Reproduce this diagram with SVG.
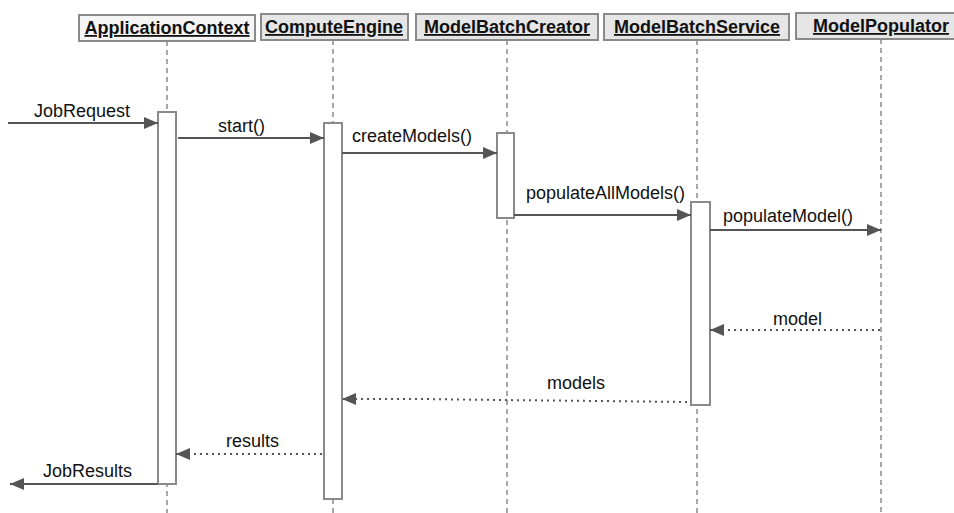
<svg xmlns="http://www.w3.org/2000/svg" width="954" height="513" viewBox="0 0 954 513">
  <defs>
    <marker id="head" viewBox="0 0 14 12" refX="14" refY="6" markerWidth="14" markerHeight="12" markerUnits="userSpaceOnUse" orient="auto">
      <path d="M0,0 L14,6 L0,12 Z" fill="#555"/>
    </marker>
    <style>
      .box { stroke: #8a8a8a; stroke-width: 2; fill: #e6e6e6; }
      .name { font-family: "Liberation Sans", Arial, sans-serif; font-size: 18px; font-weight: bold; fill: #111; text-anchor: middle; text-decoration: underline; }
      .life { stroke: #8a8a8a; stroke-width: 1.5; stroke-dasharray: 5 4; fill: none; }
      .act { fill: #ffffff; stroke: #8a8a8a; stroke-width: 2; }
      .call { stroke: #555; stroke-width: 2; fill: none; marker-end: url(#head); }
      .ret { stroke: #555; stroke-width: 2; stroke-dasharray: 2 4; fill: none; marker-end: url(#head); }
      .lbl { font-family: "Liberation Sans", Arial, sans-serif; font-size: 18px; fill: #111; }
    </style>
  </defs>
  <rect width="954" height="513" fill="#fff"/>

  <!-- lifelines -->
  <g id="lifelines">
    <line class="life" x1="167" y1="41" x2="167" y2="513"/>
    <line class="life" x1="333" y1="40" x2="333" y2="513"/>
    <line class="life" x1="507" y1="40" x2="507" y2="513"/>
    <line class="life" x1="697" y1="40" x2="697" y2="513"/>
    <line class="life" x1="881" y1="39" x2="881" y2="513"/>
  </g>

  <!-- participants with their activation bars -->
  <g id="ApplicationContext">
    <rect class="box" x="79" y="15" width="176" height="26" style="fill:#f5f5f5"/>
    <text class="name" x="167" y="34">ApplicationContext</text>
    <rect class="act" x="158" y="112" width="18" height="372"/>
  </g>
  <g id="ComputeEngine">
    <rect class="box" x="261" y="14" width="147" height="26"/>
    <text class="name" x="334" y="33">ComputeEngine</text>
    <rect class="act" x="324" y="123" width="18" height="376"/>
  </g>
  <g id="ModelBatchCreator">
    <rect class="box" x="416" y="14" width="182" height="26"/>
    <text class="name" x="507" y="33">ModelBatchCreator</text>
    <rect class="act" x="497" y="133" width="17" height="85"/>
  </g>
  <g id="ModelBatchService">
    <rect class="box" x="604" y="14" width="185" height="26"/>
    <text class="name" x="697" y="33">ModelBatchService</text>
    <rect class="act" x="691" y="202" width="19" height="203"/>
  </g>
  <g id="ModelPopulator">
    <rect class="box" x="796" y="13" width="162" height="26"/>
    <text class="name" x="881" y="32">ModelPopulator</text>
  </g>

  <!-- messages -->
  <g id="connectors">
    <line class="call" x1="8" y1="123" x2="158" y2="123"/>
    <line class="call" x1="178" y1="138" x2="324" y2="138"/>
    <line class="call" x1="342" y1="153" x2="497" y2="153"/>
    <line class="call" x1="514" y1="215" x2="691" y2="215"/>
    <line class="call" x1="710" y1="230" x2="881" y2="230"/>
    <line class="ret" x1="880" y1="330" x2="710" y2="330"/>
    <path class="ret" d="M687,402 L600,401 L500,400 L420,399 L342,399"/>
    <line class="ret" x1="322" y1="454" x2="176" y2="454"/>
    <line class="call" x1="158" y1="484" x2="10" y2="484"/>
  </g>

  <g id="labels">
    <text class="lbl" x="34" y="117">JobRequest</text>
    <text class="lbl" x="218" y="132">start()</text>
    <text class="lbl" x="352" y="142">createModels()</text>
    <text class="lbl" x="526" y="199">populateAllModels()</text>
    <text class="lbl" x="723" y="222">populateModel()</text>
    <text class="lbl" x="773" y="325">model</text>
    <text class="lbl" x="547" y="389">models</text>
    <text class="lbl" x="226" y="447">results</text>
    <text class="lbl" x="43" y="477">JobResults</text>
  </g>
</svg>
